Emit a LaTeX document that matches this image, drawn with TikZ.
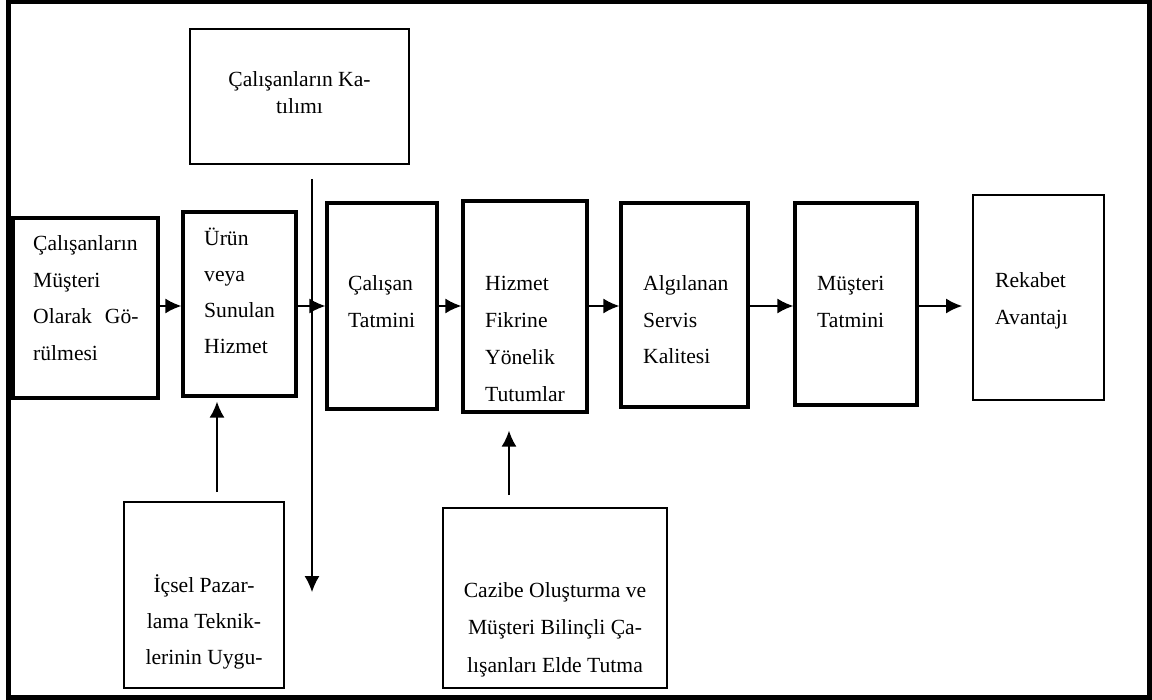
\documentclass[tikz,border=0pt]{standalone}
\usepackage{fontspec}
\setmainfont{Liberation Serif}
\usetikzlibrary{arrows.meta,calc}
\begin{document}
\begin{tikzpicture}[x=1pt,y=-1pt,
  thickbox/.style={draw,line width=3.2pt,inner sep=0pt,minimum width=#1},
  thinbox/.style={draw,line width=1.8pt,inner sep=0pt,minimum width=#1},
  txt/.style={inner sep=0pt,font=\fontsize{21.6}{#1}\selectfont},
  arr/.style={line width=1.8pt,-{Latex[length=16pt,width=15pt]}},
  longarr/.style={line width=1.3pt,-{Latex[length=16pt,width=15pt]}}]
\useasboundingbox (0,0) rectangle (1152,700);
\draw[line width=4.5pt] (8.5,2.2) rectangle (1149.5,697.5);
% main row boxes
\node[thickbox=145pt,minimum height=180pt] (b1) at (85.5,308) {};
\node[thickbox=113pt,minimum height=184pt] (b2) at (239.5,304) {};
\node[thickbox=110pt,minimum height=206pt] (b3) at (382,306) {};
\node[thickbox=124pt,minimum height=211pt] (b4) at (525,306.5) {};
\node[thickbox=127pt,minimum height=204pt] (b5) at (684.5,305) {};
\node[thickbox=122pt,minimum height=202pt] (b6) at (856,304) {};
\node[thinbox=131pt,minimum height=205pt] (b7) at (1038.5,297.5) {};
% side boxes
\node[thinbox=219pt,minimum height=135pt] (kt) at (299.5,96.5) {};
\node[thinbox=160pt,minimum height=186pt] (ic) at (204,595) {};
\node[thinbox=224pt,minimum height=180pt] (cz) at (555,598) {};
% texts
\node[txt=36.5,anchor=base west] (t1) at (33,251) {\parbox[t]{130pt}{\raggedright Çalışanların\\Müşteri\\Olarak\hspace{13pt}Gö-\\rülmesi}};
\node[txt=36,anchor=base west] (t2) at (204,246) {\parbox[t]{90pt}{\raggedright Ürün\\veya\\Sunulan\\Hizmet}};
\node[txt=36.5,anchor=base west] (t3) at (348,291) {\parbox[t]{90pt}{\raggedright Çalışan\\Tatmini}};
\node[txt=36.7,anchor=base west] (t4) at (485,291) {\parbox[t]{100pt}{\raggedright Hizmet\\Fikrine\\Yönelik\\Tutumlar}};
\node[txt=36.5,anchor=base west] (t5) at (643,291) {\parbox[t]{100pt}{\raggedright Algılanan\\Servis\\Kalitesi}};
\node[txt=36.5,anchor=base west] (t6) at (817,291) {\parbox[t]{100pt}{\raggedright Müşteri\\Tatmini}};
\node[txt=37,anchor=base west] (t7) at (995,288) {\parbox[t]{100pt}{\raggedright Rekabet\\Avantajı}};
\node[txt=27,anchor=base] (tk) at (299.5,87) {\parbox[t]{210pt}{\centering Çalışanların Ka-\\tılımı}};
\node[txt=36,anchor=base] (ti) at (204,592) {\parbox[t]{155pt}{\centering İçsel Pazar-\\lama Teknik-\\lerinin Uygu-}};
\node[txt=37.5,anchor=base] (tc) at (555,597) {\parbox[t]{220pt}{\centering Cazibe Oluşturma ve\\Müşteri Bilinçli Ça-\\lışanları Elde Tutma}};
% connectors
\coordinate (row) at (0,306);
\draw[arr] (b1.east |- row) -- (b2.west |- row);
\draw[arr] (b2.east |- row) -- (b3.west |- row);
\draw[arr] (b3.east |- row) -- (b4.west |- row);
\draw[arr] (b4.east |- row) -- (b5.west |- row);
\draw[arr] (b5.east |- row) -- (b6.west |- row);
\draw[arr] (b6.east |- row) -- ([xshift=-10pt]b7.west |- row);
\coordinate (vend) at (312,592);
\draw[longarr] ($(kt.south)+(12.5,14)$) -- (vend);
\draw[arr] ($(ic.north)+(13,-9)$) -- ($(b2.south)+(-22.5,4)$);
\draw[arr] ($(cz.north)+(-46,-12)$) -- ($(b4.south)+(-16,17)$);
\end{tikzpicture}
\end{document}
